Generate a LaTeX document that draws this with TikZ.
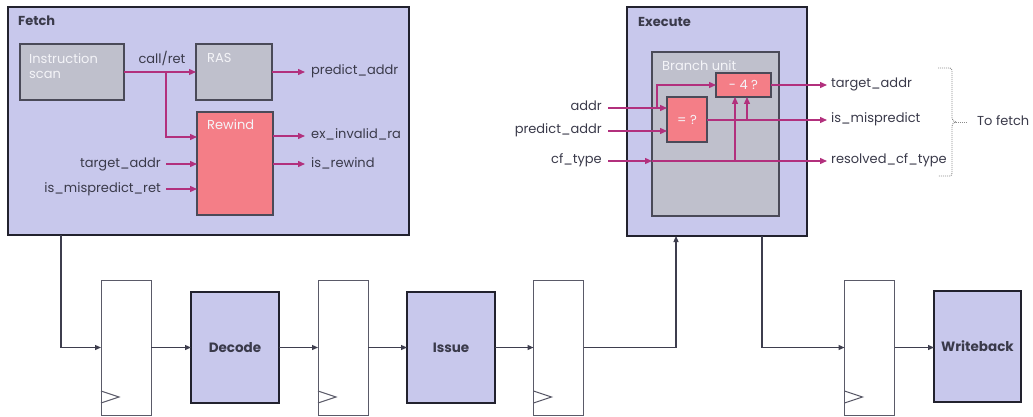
\documentclass[tikz,border=0pt]{standalone}
\usepackage{fontspec}
\setmainfont{Poppins}
\usetikzlibrary{arrows.meta,calc}

\definecolor{lav}{HTML}{C8C8EC}
\definecolor{unitgray}{HTML}{BFC0CC}
\definecolor{hotpink}{HTML}{F47E87}
\definecolor{sigcol}{HTML}{B2307D}
\definecolor{ink}{HTML}{3A3A4A}
\definecolor{stageline}{HTML}{22222E}
\definecolor{unitline}{HTML}{4A4A58}
\definecolor{regline}{HTML}{5A5A68}
\definecolor{wirecol}{HTML}{3E3E4E}
\definecolor{bracecol}{HTML}{8A8A8A}
\definecolor{softwhite}{HTML}{F4F4F8}

\tikzset{
  stage/.style={draw=stageline, line width=2.6pt, fill=lav, inner sep=0pt, outer sep=0pt},
  unitbox/.style={draw=unitline, line width=1.3pt, fill=unitgray, inner sep=0pt, outer sep=0pt},
  hotbox/.style={draw=unitline, line width=1.3pt, fill=hotpink, inner sep=0pt, outer sep=0pt,
    text=softwhite, font=\fontsize{13}{15}\selectfont},
  regbox/.style={draw=regline, line width=1pt, fill=white, inner sep=0pt, outer sep=0pt},
  sig/.style={draw=sigcol, line width=1.3pt, -{Triangle[length=7pt,width=6pt]}},
  wire/.style={draw=wirecol, line width=1.2pt, -{Triangle[length=6pt,width=5pt]}},
  clk/.style={draw=regline, line width=1pt},
  sigtxt/.style={text=ink, font=\fontsize{13}{15}\selectfont, inner ysep=0pt,
    text height=9pt, text depth=3pt},
  title/.style={text=ink, font=\fontsize{13}{15}\selectfont\bfseries, inner sep=0pt},
  stagetxt/.style={text=ink, font=\fontsize{13.5}{15}\selectfont\bfseries},
  boxtxt/.style={text=softwhite, font=\fontsize{13}{15}\selectfont, inner sep=0pt, align=left},
  brace/.style={draw=bracecol, line width=0.9pt, dash pattern=on 1pt off 1pt},
}

\begin{document}
\begin{tikzpicture}[x=1pt,y=-1pt]
\useasboundingbox (0,0) rectangle (1033,417);

% ---------------- Fetch stage ----------------
\node[stage, minimum width=401pt, minimum height=228pt, anchor=north west] (fetch) at (8,7) {};
\node[title, anchor=base west] (fetchT) at (18,26) {Fetch};

\node[unitbox, minimum width=104pt, minimum height=56pt, anchor=north west] (iscan) at (20,44) {};
\node[unitbox, minimum width=76pt, minimum height=56pt, anchor=north west] (ras) at (196,44) {};
\node[hotbox, minimum width=76pt, minimum height=103pt, anchor=north west] (rewind) at (197,112) {};

\node[boxtxt, anchor=north west] (iscanT) at (29,53) {Instruction\\scan};
\node[boxtxt, anchor=north west] (rasT) at (207,53) {RAS};
\node[boxtxt, anchor=north west] (rewindT) at (207,119) {Rewind};

\node[sigtxt, anchor=base] (lCall) at (162,64) {call/ret};
\node[sigtxt, anchor=west, inner xsep=6pt] (lPred) at (305,72) {predict\_addr};
\node[sigtxt, anchor=west, inner xsep=6pt] (lExInv) at (305,136) {ex\_invalid\_ra};
\node[sigtxt, anchor=west, inner xsep=6pt] (lRew) at (305,164) {is\_rewind};
\node[sigtxt, anchor=east, inner xsep=5pt] (lTgtIn) at (166,164) {target\_addr};
\node[sigtxt, anchor=east, inner xsep=5pt] (lMisRet) at (166,189) {is\_mispredict\_ret};

\path (iscan.east) ++(42,0) coordinate (callSplit);
\draw[sig] (iscan.east) -- (ras.west);
\draw[sig] (callSplit) |- ([yshift=-25pt]rewind.north west);
\draw[sig] (ras.east) -- (lPred.west);
\draw[sig] (lExInv.west -| rewind.east) -- (lExInv.west);
\draw[sig] (lRew.west -| rewind.east) -- (lRew.west);
\draw[sig] (lTgtIn.east) -- (lTgtIn.east -| rewind.west);
\draw[sig] (lMisRet.east) -- (lMisRet.east -| rewind.west);

% ---------------- Execute stage ----------------
\node[stage, minimum width=180pt, minimum height=229pt, anchor=north west] (execute) at (627,7) {};
\node[title, anchor=base west] (executeT) at (638,27) {Execute};

\node[unitbox, minimum width=127pt, minimum height=164pt, anchor=north west] (bu) at (652,52) {};
\node[boxtxt, anchor=north west] (buT) at (662,60) {Branch unit};

\node[hotbox, minimum width=55pt, minimum height=24pt, anchor=north west] (minus4) at (716,73) {- 4 ?};
\node[hotbox, minimum width=40pt, minimum height=45pt, anchor=north west] (eq) at (667,97) {= ?};

\node[sigtxt, anchor=east, inner xsep=6pt] (lAddr) at (608,108) {addr};
\node[sigtxt, anchor=east, inner xsep=6pt] (lPa) at (608,131) {predict\_addr};
\node[sigtxt, anchor=east, inner xsep=6pt] (lCf) at (608,161) {cf\_type};
\node[sigtxt, anchor=west, inner xsep=4pt] (lTgtOut) at (827,85) {target\_addr};
\node[sigtxt, anchor=west, inner xsep=4pt] (lMis) at (827,120) {is\_mispredict};
\node[sigtxt, anchor=west, inner xsep=4pt] (lRes) at (827,161) {resolved\_cf\_type};

\path (lAddr.east -| eq.west) ++(-10,0) coordinate (addrSplit);
\coordinate (cfTap) at ([xshift=-8.5pt]minus4.south);
\coordinate (misTap) at ([xshift=3.5pt]minus4.south);

\draw[sig] (lAddr.east) -- (lAddr.east -| eq.west);
\draw[sig] (addrSplit) |- (minus4.west);
\draw[sig] (lPa.east) -- (lPa.east -| eq.west);
\draw[sig] (lCf.east) -- (lCf.east -| bu.west);
\draw[sig] (lCf.east -| bu.west) -- (lRes.west);
\draw[sig] (cfTap |- lCf.east) -- (cfTap);
\draw[sig] ([yshift=-0.5pt]eq.east) -- (lMis.west);
\draw[sig] (misTap |- lMis.west) -- (misTap);
\draw[sig] (minus4.east) -- (lTgtOut.west |- minus4.east);

% bracket gathering the results sent back
\node[sigtxt, anchor=west, inner xsep=10pt] (lToFetch) at (967,122) {To fetch};
\draw[brace] (938,68) -- (950,68) to[out=0,in=90] (952,71) -- (952,118)
  to[out=-90,in=180] (956,122) to[out=180,in=90] (952,126) -- (952,173)
  to[out=-90,in=0] (950,176) -- (938,176);
\draw[brace] (956,122) -- (lToFetch.west);

% ---------------- pipeline row ----------------
\foreach \nm/\cx in {r1/126, r2/343, r3/558.5, r4/869.5} {
  \node[regbox, minimum width=50pt, minimum height=135pt] (\nm) at (\cx,347.5) {};
  \draw[clk] ([yshift=24pt]\nm.south west) -- ++(18,6) -- ++(-18,6);
}

\node[stage, stagetxt, minimum width=88pt, minimum height=111pt] (decode) at (235,347.5) {Decode};
\node[stage, stagetxt, minimum width=88pt, minimum height=111pt] (issue) at (451,347.5) {Issue};
\node[stage, stagetxt, minimum width=87pt, minimum height=111pt] (writeback) at (977.5,346.5) {Writeback};

\draw[wire] ([xshift=53pt]fetch.south west) |- (r1.west);
\draw[wire] (r1.east) -- (r1.east -| decode.west);
\draw[wire] (decode.east) -- (decode.east -| r2.west);
\draw[wire] (r2.east) -- (r2.east -| issue.west);
\draw[wire] (issue.east) -- (issue.east -| r3.west);
\draw[wire] (r3.east) -| ([xshift=49pt]execute.south west);
\draw[wire] ([xshift=135pt]execute.south west) |- (r4.west);
\draw[wire] (r4.east) -- (r4.east -| writeback.west);
\end{tikzpicture}
\end{document}
